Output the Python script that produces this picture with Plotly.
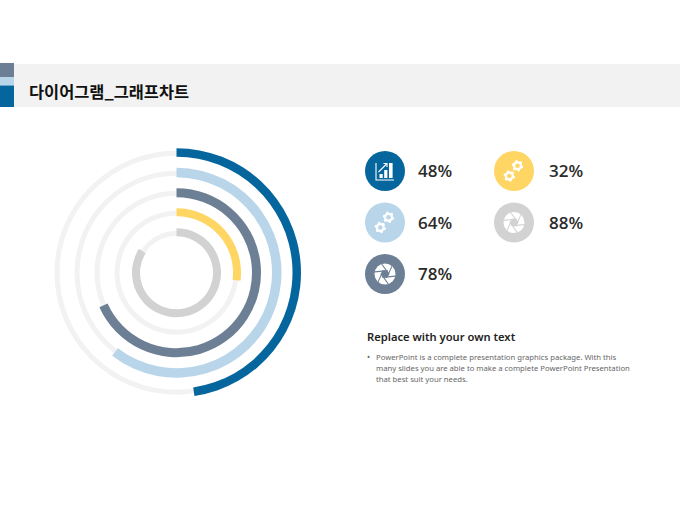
import math

import plotly.graph_objects as go

# drawn sweep of each arc (read off the picture, not the same as the printed labels)
ring_names = ["blue", "light", "slate", "yellow", "gray"]
ring_values = [47.7, 60.5, 68.3, 27, 84]
ring_colors = ["#05669e", "#b8d5ea", "#6c7f94", "#ffd563", "#d2d2d2"]
ring_outer = [124.5, 105, 84.5, 64.5, 44.5]
ring_inner = [116, 95.5, 75.5, 56.5, 36.5]
track_outer = [122, 102, 82, 62, 42]
track_inner = [117, 97, 77, 57, 37]
track_color = "#f2f2f2"

pct_labels = ["48%", "64%", "78%", "32%", "88%"]
icon_colors = ["#05669e", "#b8d5ea", "#6c7f94", "#ffd563", "#d2d2d2"]
icon_kinds = ["chart", "gears", "aperture", "gears", "aperture"]
icon_x = [385, 385, 385, 514, 514]
icon_y = [171, 222.5, 274, 171, 222.5]
label_x = [416, 416, 416, 547, 547]

title_text = "다이어그램_그래프차트"
sub_title = "Replace with your own text"
body_lines = [
    "PowerPoint is a complete presentation graphics package. With this",
    "many slides you are able to make a complete PowerPoint Presentation",
    "that best suit your needs.",
]

W, H = 680, 510
CX, CY = 176.5, 272.7

fig = go.Figure()


def add_ring(values, colors, r_out, r_in):
    fig.add_trace(go.Pie(
        values=values,
        marker=dict(colors=colors, line=dict(width=0)),
        hole=r_in / r_out,
        sort=False,
        direction="clockwise",
        rotation=0,
        textinfo="none",
        hoverinfo="skip",
        showlegend=False,
        domain=dict(
            x=[(CX - r_out) / W, (CX + r_out) / W],
            y=[1 - (CY + r_out) / H, 1 - (CY - r_out) / H],
        ),
    ))


# grey tracks first, arcs on top
for i in range(len(ring_names)):
    add_ring([100], [track_color], track_outer[i], track_inner[i])
for i in range(len(ring_names)):
    add_ring([ring_values[i], 100 - ring_values[i]], [ring_colors[i], "rgba(0,0,0,0)"],
             ring_outer[i], ring_inner[i])

shapes = [
    dict(type="rect", x0=14, x1=680, y0=64, y1=107, fillcolor="#f2f2f2", line_width=0),
    dict(type="rect", x0=0, x1=14, y0=63, y1=77, fillcolor="#6c7f94", line_width=0),
    dict(type="rect", x0=0, x1=14, y0=77, y1=85.5, fillcolor="#b8d5ea", line_width=0),
    dict(type="rect", x0=0, x1=14, y0=85.5, y1=107, fillcolor="#05669e", line_width=0),
]


def circle(cx, cy, r, color):
    return dict(type="circle", x0=cx - r, x1=cx + r, y0=cy - r, y1=cy + r,
                fillcolor=color, line_width=0)


def gear_icon(cx, cy, r, color):
    # six teeth, the hole is a circle in the background colour
    pts = []
    for k in range(24):
        a = k * math.pi / 12 + math.pi / 24
        rr = r if k % 4 < 2 else r * 0.78
        pts.append((cx + rr * math.cos(a), cy + rr * math.sin(a)))
    d = "M" + " L".join(f"{x:.2f},{y:.2f}" for x, y in pts) + " Z"
    return [dict(type="path", path=d, fillcolor="white", line_width=0), circle(cx, cy, r * 0.4, color)]


def chart_icon(cx, cy):
    out = []
    for bx, top, w in [(-5.5, 3, 3.2), (-0.8, -1, 3.2), (4, -8, 3.6)]:
        out.append(dict(type="rect", x0=cx + bx, x1=cx + bx + w, y0=cy + top, y1=cy + 7,
                        fillcolor="white", line_width=0))
    line = dict(color="white", width=1.1)
    out.append(dict(type="path", path=f"M{cx - 9},{cy - 8} L{cx - 9},{cy + 9} L{cx + 9},{cy + 9}",
                    line=line))
    out.append(dict(type="path", path=f"M{cx - 6.5},{cy + 1} L{cx + 1.5},{cy - 7}", line=line))
    out.append(dict(type="path", path=f"M{cx - 1.5},{cy - 7.5} L{cx + 2},{cy - 7.5} L{cx + 2},{cy - 4}",
                    line=line))
    return out


def aperture_icon(cx, cy, color):
    r = 10.5
    out = [circle(cx, cy, r, "white")]
    # blade gaps of the shutter
    for k in range(6):
        a = k * math.pi / 3 + 0.2
        x0 = cx + r * math.cos(a)
        y0 = cy + r * math.sin(a)
        b = a + 2.0
        x1 = cx + 4.2 * math.cos(b)
        y1 = cy + 4.2 * math.sin(b)
        out.append(dict(type="line", x0=x0, y0=y0, x1=x1, y1=y1, line=dict(color=color, width=1.1)))
    hexa = [(cx + 4.2 * math.cos(k * math.pi / 3 + 2.2), cy + 4.2 * math.sin(k * math.pi / 3 + 2.2))
            for k in range(6)]
    d = "M" + " L".join(f"{x:.2f},{y:.2f}" for x, y in hexa) + " Z"
    out.append(dict(type="path", path=d, fillcolor=color, line_width=0))
    return out


for i in range(len(icon_x)):
    cx, cy = icon_x[i], icon_y[i]
    shapes.append(circle(cx, cy, 20, icon_colors[i]))
    if icon_kinds[i] == "chart":
        shapes += chart_icon(cx, cy)
    elif icon_kinds[i] == "gears":
        shapes += gear_icon(cx + 3.5, cy - 5.2, 5.8, icon_colors[i])
        shapes += gear_icon(cx - 4.7, cy + 5, 5.8, icon_colors[i])
    else:
        shapes += aperture_icon(cx, cy, icon_colors[i])

annotations = [
    dict(x=27, y=90.5, text=f"<b>{title_text}</b>", xanchor="left", yanchor="middle", showarrow=False,
         font=dict(family="Noto Sans CJK KR", size=16.4, color="#111111")),
    dict(x=365, y=336.5, text=sub_title, xanchor="left", yanchor="middle", showarrow=False,
         font=dict(family="Noto Sans", size=11.2, color="#222222", weight=600)),
    dict(x=365, y=356.5, text="•", xanchor="left", yanchor="middle", showarrow=False,
         font=dict(family="Noto Sans", size=8, color="#666666")),
]
for i in range(len(icon_x)):
    annotations.append(dict(x=label_x[i], y=icon_y[i] - 0.5, text=pct_labels[i], xanchor="left",
                            yanchor="middle", showarrow=False,
                            font=dict(family="Open Sans", size=17, color="#2b2b2b", weight=600)))
for i, line in enumerate(body_lines):
    annotations.append(dict(x=374, y=356.5 + i * 11, text=line, xanchor="left", yanchor="middle",
                            showarrow=False, font=dict(family="Noto Sans", size=7.7, color="#666666")))

fig.update_layout(
    width=W,
    height=H,
    margin=dict(l=0, r=0, t=0, b=0),
    paper_bgcolor="white",
    plot_bgcolor="white",
    xaxis=dict(range=[0, W], visible=False, fixedrange=True),
    yaxis=dict(range=[H, 0], visible=False, fixedrange=True),
    shapes=shapes,
    annotations=annotations,
)
fig.add_trace(go.Scatter(x=[0, W], y=[0, H], mode="markers", marker=dict(opacity=0), hoverinfo="skip",
                         showlegend=False))

# default page margin would shift everything by 8px
fig.write_html("out.html", config={"displayModeBar": False},
               post_script="document.body.style.margin='0';document.body.style.overflow='hidden';")
